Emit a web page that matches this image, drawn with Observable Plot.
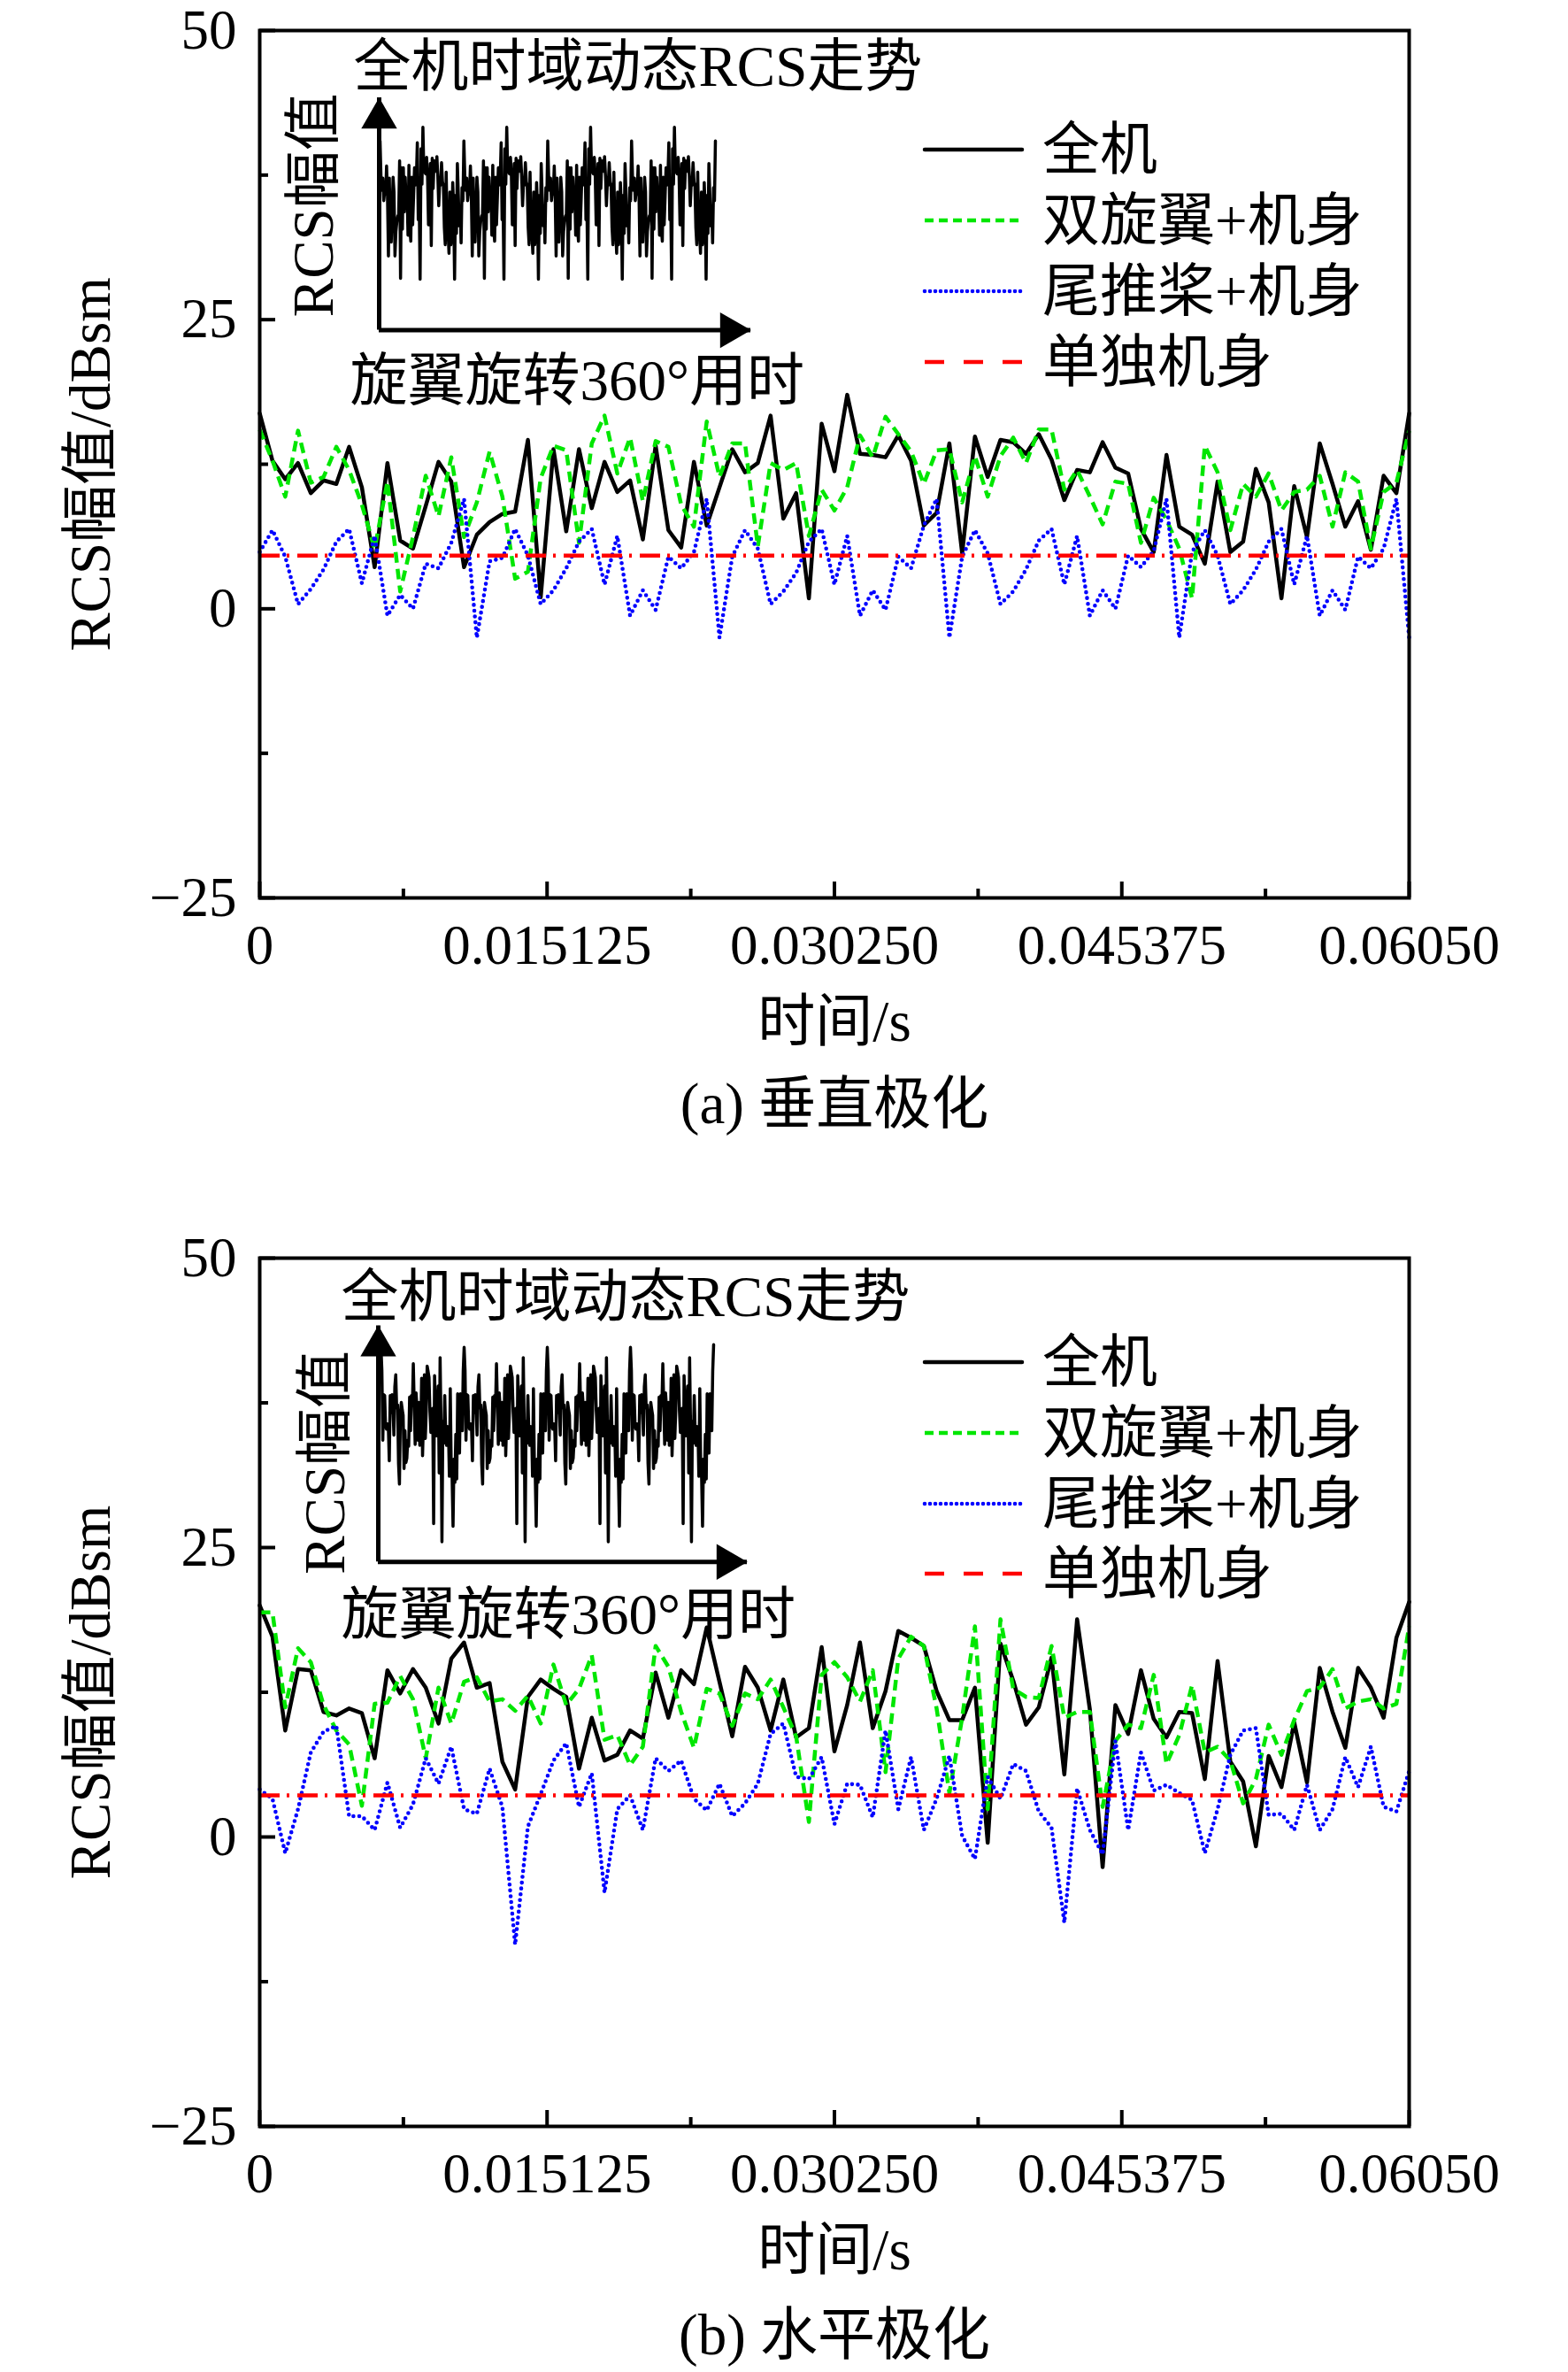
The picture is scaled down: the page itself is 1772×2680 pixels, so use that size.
<!DOCTYPE html>
<html><head><meta charset="utf-8">
<script src="https://cdn.jsdelivr.net/npm/d3@7"></script>
<script src="https://cdn.jsdelivr.net/npm/@observablehq/plot@0.6"></script>
<style>
html,body{margin:0;padding:0;background:#fff;}
#page{position:relative;width:1772px;height:2680px;overflow:hidden;background:#fff;}
#page > svg{position:absolute;}
</style></head><body><div id="page"></div>
<script>
// ---------------- data ----------------
const seriesNames = ["全机", "双旋翼+机身", "尾推桨+机身", "单独机身"];
const captions = ["(a) 垂直极化", "(b) 水平极化"];
const xTitle = "时间/s";
const yTitle = "RCS幅值/dBsm";
const insetTitle = "全机时域动态RCS走势";
const insetYLabel = "RCS幅值";
const insetXLabel = "旋翼旋转360°用时";

const tMax = 0.0605;           // time span of the 91 samples (s)
const sampleCount = 91;
const xTickValues = [0, 0.015125, 0.03025, 0.045375, 0.0605];
const xTickLabels = ["0", "0.015125", "0.030250", "0.045375", "0.06050"];
const xMinorTicks = [0.0075625, 0.0226875, 0.0378125, 0.0529375];
const yTickValues = [-25, 0, 25, 50];
const yTickLabels = ["\u221225", "0", "25", "50"];
const yMinorTicks = [-12.5, 12.5, 37.5];

// (a) vertical polarisation
const topBlack = [16.9,12.8,11.2,12.6,10.0,11.1,10.8,14.0,10.5,3.6,12.6,5.9,5.2,8.9,12.7,11.0,3.6,6.4,7.5,8.2,8.4,14.6,1.0,13.8,6.7,13.8,8.7,12.7,10.1,11.1,6.0,14.1,6.8,5.3,12.7,7.2,10.5,13.8,11.8,12.6,16.7,7.8,10.0,0.9,16.0,11.9,18.5,13.4,13.3,13.1,15.0,12.8,7.2,8.3,14.3,4.8,14.9,11.4,14.6,14.4,13.4,15.1,12.9,9.4,12.0,11.8,14.4,12.2,11.7,6.9,4.9,13.3,7.1,6.4,3.9,11.0,4.9,5.8,12.1,9.2,0.9,10.6,6.2,14.3,10.8,7.1,9.3,5.1,11.5,10.0,16.9];
const topGreen = [15.5,12.8,9.7,15.4,10.9,11.4,14.0,12.0,9.0,5.2,11.0,1.5,6.2,11.5,8.0,13.1,6.2,9.2,13.6,9.7,2.6,3.2,11.3,14.1,13.7,5.7,14.3,16.7,11.7,14.8,9.3,14.5,14.0,9.0,7.1,16.2,11.4,14.3,14.3,5.4,12.6,12.0,12.6,6.3,10.3,8.5,10.5,15.0,13.1,16.6,15.1,13.6,10.8,13.7,13.8,9.2,13.2,9.7,13.2,14.8,12.6,15.5,15.5,10.3,12.0,9.7,7.3,11.0,10.8,5.7,9.6,7.7,5.2,0.9,14.1,11.8,6.8,10.8,9.7,11.7,8.5,10.1,10.3,11.5,7.1,11.8,11.0,5.2,10.1,10.9,15.4];
const topBlue = [4.9,6.8,4.5,0.4,1.7,3.4,5.8,6.9,2.2,6.3,-0.6,1.2,0.0,3.9,3.5,5.7,9.5,-2.5,4.1,4.4,6.9,4.6,0.4,1.6,3.5,5.8,6.9,2.1,6.3,-0.6,1.6,-0.1,4.5,3.5,4.9,9.5,-2.5,4.5,6.8,5.2,0.4,1.5,3.1,5.8,6.9,2.1,6.3,-0.6,1.6,-0.1,4.5,3.5,7.2,9.5,-2.5,4.5,6.8,4.8,0.4,1.5,3.4,5.9,6.9,2.1,6.3,-0.6,1.6,0.0,4.6,3.6,5.0,9.5,-2.5,4.9,6.8,4.6,0.4,1.6,3.4,5.8,6.9,2.1,6.3,-0.6,1.6,-0.1,4.5,3.5,5.2,9.5,-2.5];
const topRed = 4.6;

// (b) horizontal polarisation
const bottomBlack = [20.0,17.3,9.2,14.5,14.4,10.8,10.5,11.1,10.7,6.8,14.4,12.4,14.5,12.9,9.8,15.4,16.8,12.9,13.3,6.5,4.1,12.1,13.6,12.8,12.1,5.9,10.3,6.6,7.1,9.2,8.5,14.2,10.3,14.4,13.2,18.1,13.4,8.7,14.7,12.9,9.2,13.6,8.6,9.4,16.4,7.4,11.4,16.8,9.4,12.6,17.8,17.2,16.5,12.6,10.1,10.1,12.9,-0.5,16.7,13.5,9.7,11.2,15.5,5.4,18.8,11.0,-2.6,11.4,8.9,14.4,10.2,8.6,10.8,10.7,5.0,15.2,6.5,4.8,-0.8,7.0,4.3,9.9,4.7,14.6,10.8,7.7,14.6,12.9,10.3,17.2,20.3];
const bottomGreen = [19.4,19.4,11.2,16.3,15.1,11.4,9.2,8.0,2.7,11.5,11.6,13.9,11.9,6.8,12.9,9.8,13.4,13.8,11.7,11.9,10.9,12.2,9.8,14.9,11.4,12.8,15.7,8.4,8.8,6.2,7.8,16.5,14.7,10.8,7.7,12.8,12.4,9.6,12.4,11.9,13.6,11.2,8.7,1.3,14.0,15.1,13.8,11.7,14.4,5.6,15.4,17.3,16.5,11.1,3.8,10.3,18.2,2.4,18.8,12.8,12.1,12.0,16.5,10.3,10.8,10.8,2.6,8.3,9.7,9.4,14.0,6.3,8.8,13.1,7.3,7.8,6.6,2.9,5.0,9.7,7.1,10.1,12.6,12.9,14.5,11.1,11.7,11.9,11.1,11.5,18.2];
const bottomBlue = [4.1,3.3,-1.4,2.4,7.3,9.1,9.6,1.8,1.8,0.6,4.7,0.8,2.8,6.8,4.6,7.8,2.4,2.0,5.9,2.6,-9.3,0.9,3.7,6.6,8.1,2.6,5.5,-4.8,2.4,3.6,0.6,6.8,5.7,6.6,3.3,2.3,4.6,1.8,2.9,4.6,8.9,9.8,5.2,5.0,6.9,1.1,4.6,4.5,1.7,9.2,2.4,6.9,0.6,3.3,7.0,0.1,-1.9,5.2,3.3,6.3,5.7,2.2,0.8,-7.4,4.2,0.6,-1.5,8.3,0.6,7.3,4.0,4.5,3.8,3.2,-1.4,2.4,7.1,9.2,9.4,1.9,2.0,0.6,4.5,0.6,2.4,6.9,4.3,7.8,2.6,2.2,5.7];
const bottomRed = 3.6;

// insets: the whole-aircraft curve over four rotor periods (360°)
function fourPeriods(arr) {
  const one = arr.slice(0, arr.length - 1);
  return [...one, ...one, ...one, ...one, arr[arr.length - 1]];
}
const topInset = fourPeriods(topBlack);
const bottomInset = fourPeriods(bottomBlack);

// ---------------- styling ----------------
const FONT = "'Liberation Serif','Times New Roman','Noto Sans CJK SC',serif";
const lineStyles = [
  {stroke: "#000000", strokeWidth: 4.5, strokeDasharray: null, strokeLinecap: "round"},
  {stroke: "#00e600", strokeWidth: 4.5, strokeDasharray: "12 7", strokeLinecap: "butt"},
  {stroke: "#0000ff", strokeWidth: 4.6, strokeDasharray: "0 6.6", strokeLinecap: "round"},
  {stroke: "#ff0000", strokeWidth: 4.5, strokeDasharray: "23 8 3 9", strokeLinecap: "butt"}
];
const legendDash = [null, "10 6", "0 6", "22 22"];

const page = document.getElementById("page");
const sampleStep = tMax / (sampleCount - 1);
const xAcc = (d, i) => i * sampleStep;

function panel(cfg) {
  const mL = 293, mR = 180, mT = 34;
  const frameW = 1772 - mL - mR;
  const frameH = cfg.height - mT - cfg.marginBottom;
  const series = [cfg.black, cfg.green, cfg.blue];
  return Plot.plot({
    width: 1772, height: cfg.height,
    marginLeft: mL, marginRight: mR, marginTop: mT, marginBottom: cfg.marginBottom,
    style: {fontFamily: FONT, fontSize: "63px", background: "transparent", color: "black", overflow: "visible"},
    x: {domain: [0, tMax]},
    y: {domain: [yTickValues[0], yTickValues[yTickValues.length - 1]]},
    marks: [
      Plot.axisX({ticks: xTickValues, tickFormat: d => xTickLabels[xTickValues.indexOf(d)], tickSize: 0, tickPadding: 30, label: null}),
      Plot.axisY({ticks: yTickValues, tickFormat: d => yTickLabels[yTickValues.indexOf(d)], tickSize: 0, tickPadding: 26, label: null}),
      ...series.map((s, k) => Plot.line(s, {x: xAcc, y: d => d, ...lineStyles[k], strokeLinejoin: "round"})),
      Plot.ruleY([cfg.red], {...lineStyles[3]}),
      Plot.tickX(xTickValues, {x: d => d, insetTop: frameH - 18, stroke: "black", strokeWidth: 4}),
      Plot.tickX(xMinorTicks, {x: d => d, insetTop: frameH - 10, stroke: "black", strokeWidth: 4}),
      Plot.tickY(yTickValues, {y: d => d, insetRight: frameW - 18, stroke: "black", strokeWidth: 4}),
      Plot.tickY(yMinorTicks, {y: d => d, insetRight: frameW - 10, stroke: "black", strokeWidth: 4}),
      Plot.frame({stroke: "black", strokeWidth: 4}),
      Plot.text([xTitle], {frameAnchor: "bottom", textAnchor: "middle", lineAnchor: "middle", dy: 141, fontSize: 65, fill: "black"}),
      Plot.text([yTitle], {frameAnchor: "left", textAnchor: "middle", lineAnchor: "middle", rotate: -90, dx: -190, fontSize: 65, fill: "black"}),
      Plot.text([cfg.caption], {frameAnchor: "bottom", textAnchor: "middle", lineAnchor: "middle", dy: cfg.captionDy, fontSize: 65, fill: "black"})
    ]
  });
}

function inset(cfg) {
  const xd = cfg.xDomain, yd = cfg.yDomain;
  return Plot.plot({
    width: 750, height: 450,
    marginLeft: cfg.mL, marginTop: cfg.mT, marginRight: cfg.mR, marginBottom: cfg.mB,
    style: {fontFamily: FONT, fontSize: "65px", background: "transparent", color: "black", overflow: "visible"},
    x: {domain: xd, axis: null},
    y: {domain: yd, axis: null},
    marks: [
      Plot.line(cfg.data, {x: (d, i) => i, y: d => d, stroke: "black", strokeWidth: 3.5, strokeLinejoin: "round"}),
      Plot.ruleX([xd[0]], {stroke: "black", strokeWidth: 5}),
      Plot.ruleY([yd[0]], {stroke: "black", strokeWidth: 5}),
      Plot.dot([[xd[0], yd[1]]], {x: d => d[0], y: d => d[1], symbol: "triangle", r: 15, fill: "black", stroke: "none", dy: 23}),
      Plot.dot([[xd[1], yd[0]]], {x: d => d[0], y: d => d[1], symbol: "triangle", r: 15, fill: "black", stroke: "none", rotate: 90, dx: -23}),
      Plot.text([insetTitle], {frameAnchor: "top-left", textAnchor: "start", lineAnchor: "bottom", dx: cfg.titleDx, dy: cfg.titleDy, fill: "black"}),
      Plot.text([insetYLabel], {frameAnchor: "left", textAnchor: "middle", lineAnchor: "middle", rotate: -90, dx: cfg.yLabDx, dy: cfg.yLabDy, fill: "black"}),
      Plot.text([insetXLabel], {frameAnchor: "bottom-left", textAnchor: "start", lineAnchor: "bottom", dx: cfg.xLabDx, dy: cfg.xLabDy, fill: "black"})
    ]
  });
}

function place(el, left, top) {
  el.style.position = "absolute";
  el.style.left = left + "px";
  el.style.top = top + "px";
  page.appendChild(el);
}

place(panel({black: topBlack, green: topGreen, blue: topBlue, red: topRed, caption: captions[0], height: 1387, marginBottom: 373, captionDy: 234}), 0, 0);
place(panel({black: bottomBlack, green: bottomGreen, blue: bottomBlue, red: bottomRed, caption: captions[1], height: 1293, marginBottom: 278, captionDy: 237}), 0, 1387);

place(inset({data: topInset, xDomain: [-0.95, 398], yDomain: [-5.0, 21.9], mL: 108, mT: 80, mR: 222, mB: 107.4,
  titleDx: -29, titleDy: -14, yLabDx: -73, yLabDy: -10, xLabDx: -33, xLabDy: 79}), 320, 30);
place(inset({data: bottomInset, xDomain: [-2.9, 396.4], yDomain: [-4.95, 22.5], mL: 107, mT: 80.4, mR: 226, mB: 102.7,
  titleDx: -42, titleDy: -11, yLabDx: -59, yLabDy: 21, xLabDx: -42, xLabDy: 81}), 320, 1417);

// legends
const legendRows = [[169, 249, 329, 409], [1539, 1619, 1699, 1778]];
const leg = d3.select(page).append("svg")
  .attr("width", 1772).attr("height", 2680)
  .style("left", "0px").style("top", "0px").style("pointer-events", "none");
legendRows.forEach(rows => {
  rows.forEach((y, k) => {
    const st = lineStyles[k];
    leg.append("line").attr("x1", 1045).attr("x2", 1155).attr("y1", y).attr("y2", y)
      .attr("stroke", st.stroke).attr("stroke-width", st.strokeWidth)
      .attr("stroke-dasharray", legendDash[k]).attr("stroke-linecap", st.strokeLinecap);
    leg.append("text").attr("x", 1178).attr("y", y).attr("dominant-baseline", "central")
      .attr("font-family", FONT).attr("font-size", 65).attr("fill", "black").text(seriesNames[k]);
  });
});
</script></body></html>
